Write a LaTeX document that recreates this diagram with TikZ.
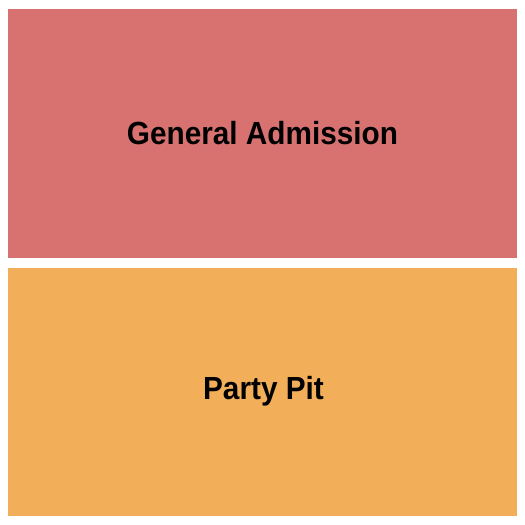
\documentclass[tikz,border=0pt]{standalone}
\usepackage{fontspec}
\newfontfamily\labfont[FakeStretch=0.93]{Liberation Sans}
\definecolor{gacol}{HTML}{D77271}
\definecolor{pitcol}{HTML}{F3AE5A}
\begin{document}
\begin{tikzpicture}[x=1pt,y=-1pt,
  section/.style={draw=none},
  lab/.style={font=\labfont\bfseries\fontsize{32}{32}\selectfont, text=black, inner sep=0pt, anchor=base}]
\useasboundingbox (0,0) rectangle (525,525);
\fill[white] (0,0) rectangle (525,525);
\path[section, fill=gacol] (8,9) rectangle (517,258) coordinate (gaBR);
\path[section, fill=pitcol] (8,268) rectangle (517,516) coordinate (pitBR);
\node[lab] (ga) at (262.5,144) {General Admission};
\node[lab] (pit) at (263.5,399) {Party Pit};
\end{tikzpicture}
\end{document}
